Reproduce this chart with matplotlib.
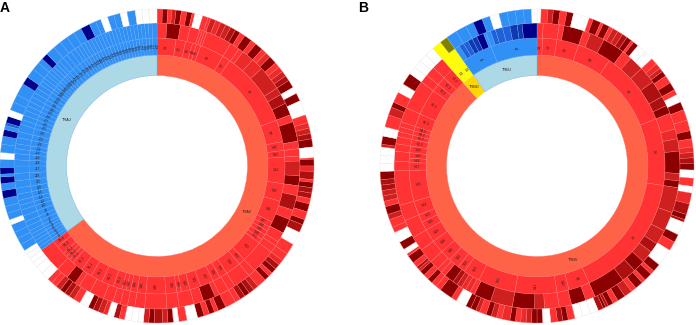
import numpy as np
import matplotlib
matplotlib.use('Agg')
import matplotlib.pyplot as plt

plt.rcParams['font.family'] = ['Liberation Sans', 'DejaVu Sans']

# shades used in the cells
shades = {'a': '#ff3333', 'b': '#ec2a2a', 'c': '#cf2020', 'd': '#ac1010', 'e': '#8b0000',
          'w': '#ffffff', 'B': '#3090f5', 'M': '#2060d8', 'K': '#1038b0', 'N': '#00008b',
          'y': '#ffff00', 'o': '#808000', 'T': '#ff6347', 'L': '#add8e6', 'G': '#ffd700'}

# all rings: (end angle clockwise from top, shade)
a_root = [(234, 'T', 'TRAV'), (360, 'L', 'TRAJ')]
b_root = [(318.5, 'T', 'TRBV'), (325, 'G', 'TRBD'), (360, 'L', 'TRBJ')]

a_v_ends = [8.6, 13, 16.2, 18, 20, 31, 34.7, 69, 79, 83, 86, 98, 106, 116, 118.5, 120.5, 122.5, 125, 127,
            137, 140, 147, 150.5, 154, 160, 165, 169, 171, 176, 185, 189, 192, 194, 196, 200, 205.5,
            211, 216, 221, 223, 225, 227, 231, 234]
a_v_labels = ['V1', 'V2', 'V3', 'V4', 'V5', 'V6', 'V7', 'V8', 'V9', 'V10', 'V12', 'V13', 'V14', 'V16', 'V17',
              'V18', 'V19', 'V20', 'V21', 'V22', 'V23', 'V24', 'V25', 'V26', 'V27', 'V29', 'V30', 'V34', 'V35',
              'V36', 'V38', 'V39', 'V40', 'V41', 'V2-1', 'V3-1', 'V4-1', 'V5-1', 'V6-1', 'V7-1', 'V8-1', 'V8-2',
              'V8-3', 'V8-4']
a_j_ends = [235.5, 237, 238.5, 240, 241.5, 243, 245, 247, 249.5, 252, 254, 256, 258.5, 261, 264, 267, 270,
            272.5, 275, 277, 279, 281.5, 284, 287, 289, 291, 293, 295, 297, 299, 301, 303, 305, 306.5, 308,
            309.5, 311, 312.5, 314, 315.5, 317, 319, 321, 323, 325, 326.5, 328, 329.5, 331, 332.5, 334,
            335.5, 337, 338.5, 340, 341.5, 343, 344.5, 346, 347.5, 349, 350.5, 352, 353.5, 355, 356.5, 358, 360]

a_ring3 = [(4, 'a'), (9.5, 'e'), (13.5, 'a'), (17.5, 'a'), (18.5, 'a'), (19.5, 'a'), (20.5, 'a'), (31, 'a'),
           (35, 'a'), (37, 'a'), (42, 'b'), (47, 'b'), (57, 'c'), (60, 'c'), (64, 'd'), (69, 'e'), (72, 'a'),
           (80, 'e'), (83, 'a'), (86, 'a'), (88, 'a'), (94, 'c'), (98, 'e'), (102, 'a'), (108, 'd'), (112, 'a'),
           (118, 'e'), (122, 'a'), (124, 'a'), (127, 'a'), (137, 'a'), (140, 'a'), (147, 'a'), (150, 'a'),
           (154, 'a'), (156, 'a'), (161, 'e'), (165, 'a'), (171, 'a'), (176, 'a'), (185, 'a'), (189, 'a'),
           (192, 'a'), (195, 'a'), (198, 'a'), (202, 'a'), (208, 'a'), (213, 'a'), (215, 'a'), (219, 'e'),
           (224, 'a'), (234, 'a')]

a_ring4 = [(2, 'a'), (4, 'e'), (5.5, 'a'), (7, 'c'), (9, 'e'), (11, 'a'), (13, 'e'), (14, 'a'), (17, 'w'),
           (19, 'a'), (20, 'a'), (22, 'c'), (24, 'b'), (26, 'c'), (28, 'c'), (30, 'd'), (32, 'e'), (34, 'a'),
           (37, 'e'), (39, 'a'), (42, 'e'), (44, 'a'), (46, 'b'), (49, 'e'), (51, 'a'), (53, 'b'), (55, 'c'),
           (57, 'd'), (60, 'e'), (62.5, 'w'), (65.5, 'e'), (71, 'w'), (74, 'a'), (76, 'b'), (78, 'c'), (80, 'd'),
           (83, 'e'), (87, 'w'), (87.5, 'a'), (90, 'e'), (92, 'b'), (95, 'd'), (96, 'a'), (98, 'e'), (100, 'd'),
           (102, 'd'), (104, 'a'), (107, 'e'), (110, 'a'), (112, 'e'), (115, 'd'), (120, 'w'), (124, 'a'),
           (127, 'a'), (129, 'b'), (131, 'd'), (133, 'e'), (134.5, 'a'), (136.5, 'e'), (140, 'a'), (142, 'c'),
           (144, 'd'), (146, 'e'), (148, 'd'), (150, 'a'), (154, 'a'), (157, 'e'), (158.5, 'a'), (160.5, 'e'),
           (162.5, 'a'), (165, 'e'), (169, 'w'), (172, 'a'), (174, 'w'), (176, 'e'), (178, 'c'), (181, 'd'),
           (183, 'e'), (185, 'c'), (187, 'w'), (189.5, 'w'), (192, 'w'), (194, 'a'), (196, 'd'), (198.5, 'w'),
           (200, 'b'), (202, 'c'), (204, 'd'), (206, 'e'), (209.5, 'w'), (212, 'a'), (214, 'c'), (216, 'd'),
           (218, 'e'), (220, 'c'), (222, 'a'), (224, 'a'), (227, 'w'), (230, 'w'), (232, 'w'), (234, 'w'),
           (236, 'w'), (237.5, 'w'), (240, 'B'), (242.5, 'B'), (245, 'B'), (248, 'B'), (250, 'w'), (252.5, 'B'),
           (255, 'B'), (258, 'B'), (261, 'N'), (263.5, 'B'), (266, 'N'), (267, 'B'), (269.5, 'N'), (272.5, 'B'),
           (275, 'w'), (278, 'B'), (281, 'B'), (283.5, 'N'), (285, 'B'), (286, 'M'), (288.5, 'N'), (291, 'w'),
           (294, 'B'), (297, 'B'), (301.5, 'B'), (304.5, 'N'), (308, 'B'), (311, 'B'), (313, 'B'), (315.5, 'N'),
           (319, 'B'), (322, 'B'), (325, 'B'), (328, 'B'), (331, 'B'), (334.5, 'N'), (337, 'B'), (339, 'B'),
           (341.7, 'w'), (344, 'B'), (346.4, 'B'), (349, 'w'), (352, 'B'), (354.5, 'w'), (357, 'w'), (360, 'w')]

b_ring2 = [(2.5, 'a', 'V1'), (9, 'a', 'V2'), (19, 'a', 'V3'), (34.5, 'a', 'V4'), (68.4, 'a', 'V5'), (98.8, 'a', 'V6'),
           (156, 'a', 'V7'), (165.5, 'a', 'V9'), (171, 'a', 'V10'), (190, 'a', 'V11'), (207, 'a', 'V12'),
           (214.5, 'a', 'V13'), (218, 'a', 'V14'), (223, 'a', 'V15'), (228, 'a', 'V16'), (234, 'a', 'V18'),
           (240, 'a', 'V19'), (244, 'a', 'V20'), (247.5, 'a', 'V23'), (254, 'a', 'V24'), (268, 'a', 'V25'),
           (271.5, 'a', 'V27'), (273.5, 'a', 'V28'), (276, 'a', 'V29'), (279, 'a', 'V30'), (282, 'a', 'V2-1'),
           (284, 'a', 'V3-1'), (286, 'a', 'V4-1'), (288, 'a', 'V4-2'), (294, 'a', 'V5-1'), (306, 'a', 'V6-1'),
           (309.5, 'a', 'V6-2'), (313.5, 'a', 'V7-1'), (318.5, 'a', 'V7-2'), (321.5, 'y', 'D2'), (325, 'y', 'D1'),
           (339, 'B', 'J1'), (360, 'B', 'J2')]

b_ring3 = [(2.5, 'a'), (9, 'a'), (11, 'a'), (19, 'e'), (22, 'a'), (28, 'c'), (37, 'e'), (41, 'a'), (47, 'c'),
           (54, 'c'), (61, 'd'), (65, 'd'), (68.4, 'e'), (75, 'a'), (79, 'b'), (84, 'c'), (93, 'e'), (96, 'c'),
           (98.8, 'e'), (109, 'c'), (117, 'c'), (123, 'c'), (127, 'd'), (132, 'c'), (137, 'e'), (143, 'd'),
           (156, 'e'), (160, 'a'), (166, 'e'), (171, 'a'), (177, 'a'), (181, 'c'), (190, 'e'), (199, 'c'),
           (206, 'e'), (208, 'a'), (210, 'b'), (212, 'b'), (214, 'c'), (216, 'd'), (220, 'e'), (222, 'a'),
           (224, 'a'), (228, 'a'), (234, 'a'), (240, 'a'), (247.5, 'a'), (254, 'a'), (268, 'a'), (272, 'a'),
           (276, 'a'), (279, 'a'), (282, 'a'), (284, 'a'), (286, 'a'), (288, 'a'), (294, 'a'), (306, 'a'),
           (309.5, 'a'), (313.5, 'a'), (318.5, 'a'), (325, 'y'), (327, 'B'), (329, 'M'), (331, 'M'), (333, 'K'),
           (335, 'K'), (338, 'N'), (339, 'B'), (341, 'B'), (343, 'M'), (346, 'M'), (349, 'M'), (352, 'K'),
           (354, 'K'), (360, 'N')]

b_ring4 = [(1.5, 'w'), (4, 'a'), (6, 'c'), (8.5, 'e'), (11, 'a'), (13.5, 'e'), (19.5, 'w'), (21, 'a'), (24, 'e'),
           (25, 'a'), (27.5, 'e'), (29, 'a'), (31, 'c'), (33, 'c'), (35, 'd'), (37, 'e'), (38, 'a'), (40, 'e'),
           (43.5, 'w'), (47, 'w'), (49.5, 'a'), (51.5, 'b'), (53, 'c'), (55, 'e'), (58, 'a'), (61, 'e'), (63, 'a'),
           (66, 'w'), (69, 'e'), (73, 'a'), (77, 'a'), (80, 'e'), (83, 'a'), (85, 'b'), (87, 'c'), (89, 'd'),
           (91.5, 'e'), (94.5, 'w'), (97.5, 'a'), (100, 'w'), (104, 'b'), (108, 'd'), (110, 'e'), (111, 'd'),
           (116, 'w'), (119, 'e'), (122.5, 'a'), (129, 'w'), (132, 'e'), (133.5, 'a'), (136.5, 'e'), (138, 'a'),
           (141, 'e'), (143, 'a'), (146, 'c'), (149, 'e'), (151, 'a'), (153, 'e'), (154, 'd'), (155, 'e'),
           (157, 'd'), (160, 'w'), (163, 'w'), (166, 'w'), (168.5, 'a'), (170.5, 'e'), (172.5, 'd'), (175, 'a'),
           (178, 'w'), (180, 'e'), (182, 'e'), (184, 'c'), (186, 'b'), (188, 'a'), (190, 'e'), (193, 'b'),
           (195, 'a'), (197, 'c'), (199, 'e'), (201.5, 'a'), (203, 'c'), (205, 'e'), (207, 'e'), (211, 'w'),
           (213, 'a'), (218, 'e'), (220, 'a'), (222, 'a'), (224, 'e'), (226, 'a'), (228, 'e'), (229, 'c'),
           (230, 'd'), (232, 'a'), (235, 'e'), (236, 'a'), (238, 'w'), (241, 'e'), (245, 'w'), (247, 'a'),
           (250, 'a'), (252, 'c'), (255, 'e'), (257, 'a'), (259, 'c'), (261, 'c'), (263, 'd'), (265, 'd'),
           (268, 'e'), (271, 'w'), (274, 'w'), (277, 'w'), (278, 'c'), (281, 'e'), (284.5, 'w'), (289, 'a'),
           (292, 'c'), (294, 'e'), (298, 'a'), (301.5, 'w'), (306, 'e'), (309, 'w'), (312, 'w'), (315, 'w'),
           (318.5, 'w'), (322, 'y'), (325, 'o'), (329, 'B'), (333, 'B'), (336, 'B'), (339.5, 'N'), (342.5, 'B'),
           (346, 'w'), (349, 'B'), (352, 'B'), (355, 'B'), (358, 'B'), (360, 'w')]

panel_letters = ['A', 'B']


def draw_ring(ax, center, r_in, r_out, ends, codes):
    sizes = np.diff([0] + list(ends))
    wedges, _ = ax.pie(sizes, colors=[shades[c] for c in codes], center=center, radius=r_out,
                       startangle=90, counterclock=False,
                       wedgeprops=dict(width=r_out - r_in, linewidth=0.25, edgecolor='#ff7070'))
    for w, c in zip(wedges, codes):
        if c == 'w':
            w.set_edgecolor('#e4e4e4')
        elif c in 'BMKNL':
            w.set_edgecolor('#62a8f5')
        elif c in 'yoG':
            w.set_edgecolor('#f5e860')


def ring_labels(ax, center, r, ends, labels, size=2.4, flat=False):
    start = 0
    for end, lab in zip(ends, labels):
        mid = np.radians((start + end) / 2)
        x = center[0] + r * np.sin(mid)
        y = center[1] + r * np.cos(mid)
        rot = 90 - np.degrees(mid)
        if rot < -90:
            rot += 180
        ax.text(x, y, lab, fontsize=size, color='#2a2020', ha='center', va='center',
                rotation=0 if flat else rot)
        start = end


fig = plt.figure(figsize=(6.96, 3.25), dpi=100)
ax = fig.add_axes([0, 0, 1, 1])

# panel A
c_a = (157, 159)
draw_ring(ax, c_a, 90.5, 111, [r[0] for r in a_root], [r[1] for r in a_root])
draw_ring(ax, c_a, 111, 128, a_v_ends + a_j_ends, ['a'] * len(a_v_ends) + ['B'] * len(a_j_ends))
draw_ring(ax, c_a, 128, 143, [r[0] for r in a_ring3] + a_j_ends,
          [r[1] for r in a_ring3] + ['B'] * len(a_j_ends))
draw_ring(ax, c_a, 143, 157, [r[0] for r in a_ring4], [r[1] for r in a_ring4])
ring_labels(ax, c_a, 101, [r[0] for r in a_root], [r[2] for r in a_root], size=2.8, flat=True)
ring_labels(ax, c_a, 119.5, a_v_ends + a_j_ends, a_v_labels + ['J%d' % (i + 1) for i in range(len(a_j_ends))])

# panel B
c_b = (537, 159)
draw_ring(ax, c_b, 90.5, 111, [r[0] for r in b_root], [r[1] for r in b_root])
draw_ring(ax, c_b, 111, 128, [r[0] for r in b_ring2], [r[1] for r in b_ring2])
draw_ring(ax, c_b, 128, 143, [r[0] for r in b_ring3], [r[1] for r in b_ring3])
draw_ring(ax, c_b, 143, 157, [r[0] for r in b_ring4], [r[1] for r in b_ring4])
ring_labels(ax, c_b, 101, [r[0] for r in b_root], [r[2] for r in b_root], size=2.8, flat=True)
ring_labels(ax, c_b, 119.5, [r[0] for r in b_ring2], [r[2] for r in b_ring2], size=2.5)

ax.text(0, 317, panel_letters[0], fontsize=10, fontweight='bold', va='center', ha='left')
ax.text(358, 317, panel_letters[1], fontsize=10, fontweight='bold', va='center', ha='left')

ax.set_xlim(0, 696)
ax.set_ylim(0, 325)
ax.set_aspect('equal')
ax.axis('off')
fig.savefig('out.png', dpi=100)
